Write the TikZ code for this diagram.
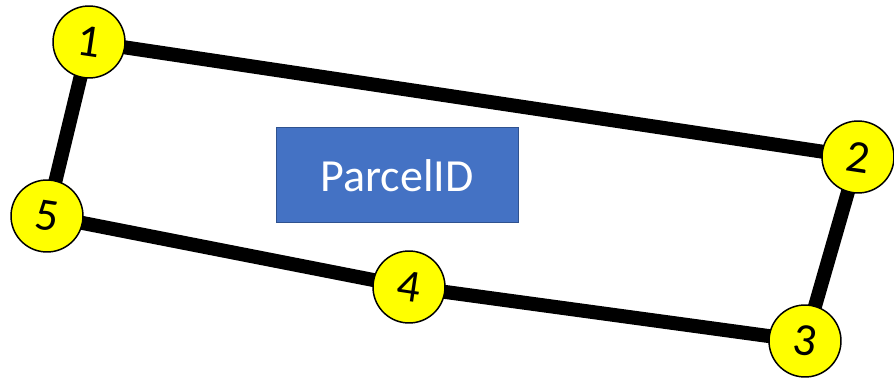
\documentclass[tikz,border=0pt]{standalone}
\usepackage{fontspec}
\setmainfont{Carlito}
\usepackage{xcolor}
\definecolor{myyellow}{RGB}{255,255,0}
\definecolor{myblue}{RGB}{68,114,196}
\definecolor{myedge}{RGB}{47,82,143}
\usetikzlibrary{positioning}

\begin{document}
\begin{tikzpicture}[x=1pt,y=-1pt,
    vertex/.style={circle, draw=black, line width=1.5pt, fill=myyellow,
        minimum size=72pt, inner sep=0pt, font=\fontsize{46}{46}\selectfont, rotate=-8.5},
    boundary/.style={line width=14pt},
    labelbox/.style={draw=myedge, line width=1pt, fill=myblue, text=white,
        minimum width=242pt, minimum height=95pt, font=\fontsize{46}{46}\selectfont}]
    \useasboundingbox (0,0) rectangle (894,379);
    % corner points of the parcel
    \coordinate (c1) at (89,42);
    \coordinate (c2) at (858,157);
    \coordinate (c3) at (805,341);
    \coordinate (c4) at (409,287);
    \coordinate (c5) at (47,216);
    \draw[boundary] (c1) -- (c2) -- (c3) -- (c4) -- (c5) -- cycle;
    \foreach \i in {1,...,5} {
        \node[vertex] (p\i) at (c\i) {\i};
    }
    \node[labelbox] (parcel) at (397,175.5) {ParcelID};
\end{tikzpicture}
\end{document}
